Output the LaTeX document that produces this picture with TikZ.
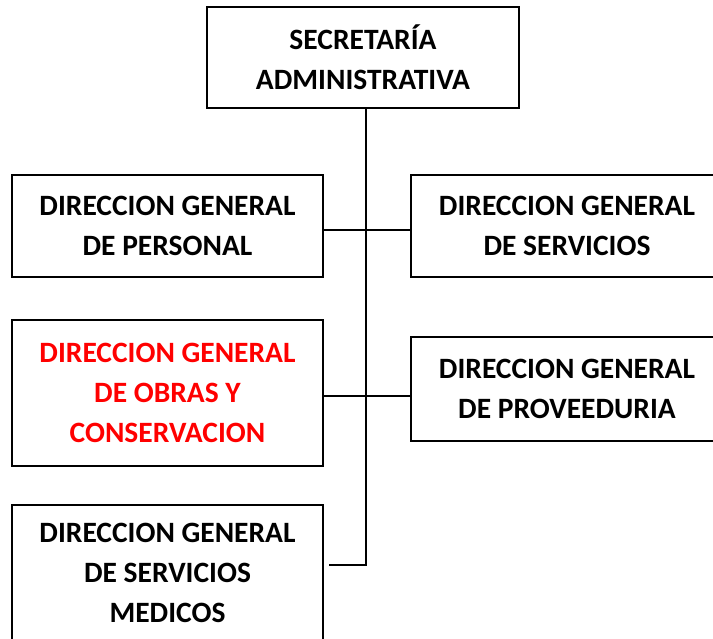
\documentclass[tikz,border=0pt]{standalone}
\usepackage{fontspec}
\setmainfont{Carlito}
\begin{document}
\begin{tikzpicture}[x=1pt,y=-1pt,
  box/.style={draw=black,line width=1.8pt,rectangle,inner sep=0pt,align=center,
    font=\bfseries\fontsize{29.5}{40}\selectfont},
  link/.style={draw=black,line width=1.6pt}]
\useasboundingbox (0,0) rectangle (713,639);
\clip (0,0) rectangle (713,639);
\node[box,minimum width=312pt,minimum height=101pt] (top) at (363,57.5) {SECRETAR\'IA\\ADMINISTRATIVA};
\node[box,minimum width=311pt,minimum height=102pt] (b1) at (167.5,226) {DIRECCION GENERAL\\DE PERSONAL};
\node[box,minimum width=312pt,minimum height=102pt] (b2) at (567,226) {DIRECCION GENERAL\\DE SERVICIOS};
\node[box,minimum width=311pt,minimum height=146pt,text=red] (b3) at (167.5,393) {DIRECCION GENERAL\\DE OBRAS Y\\CONSERVACION};
\node[box,minimum width=312pt,minimum height=104pt] (b4) at (567,389) {DIRECCION GENERAL\\DE PROVEEDURIA};
\node[box,minimum width=311pt,minimum height=136pt] (b5) at (167.5,573) {DIRECCION GENERAL\\DE SERVICIOS\\MEDICOS};
\coordinate (end) at (366,565);
\draw[link] (top.south -| end) -- (end) -- ([xshift=5pt]b5.east |- end);
\draw[link] ([yshift=-4pt]b1.east) -- ([yshift=-4pt]b1.east -| b2.west);
\draw[link] ([yshift=-3pt]b3.east) -- ([yshift=-3pt]b3.east -| b4.west);
\end{tikzpicture}
\end{document}
